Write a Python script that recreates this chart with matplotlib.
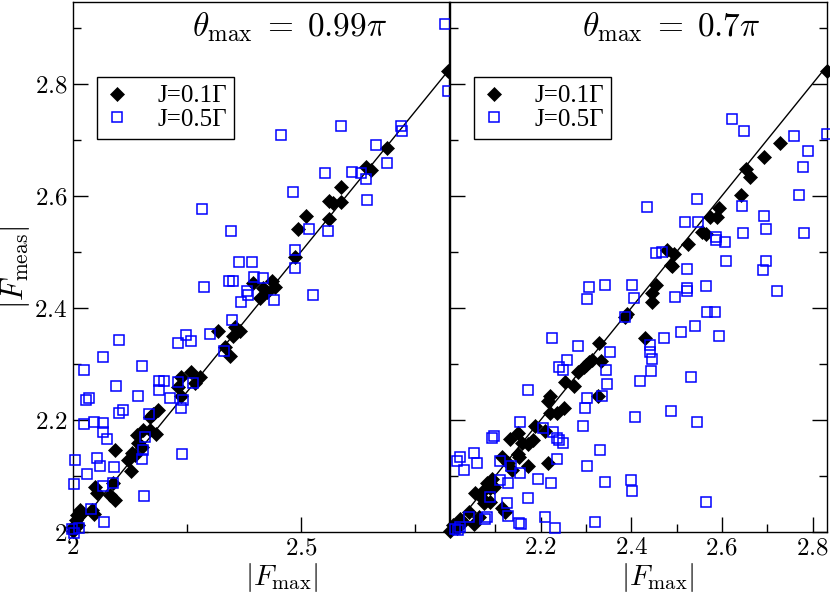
import matplotlib
matplotlib.use("Agg")
import matplotlib.pyplot as plt
from matplotlib.ticker import FixedLocator, MultipleLocator

plt.rcParams['mathtext.fontset'] = 'cm'
plt.rcParams['font.family'] = ['DejaVu Serif']

# ---------------- data ----------------
# Left panel (theta_max = 0.99 pi)
left_j01_x = [2.823, 2.689, 2.642, 2.653, 2.587, 2.562, 2.571, 2.589, 2.562, 2.512,
              2.493, 2.487, 2.395, 2.417, 2.436, 2.443, 2.410, 2.425, 2.319, 2.355,
              2.366, 2.352, 2.333, 2.344, 2.258, 2.279, 2.237, 2.231, 2.238, 2.268,
              2.187, 2.176, 2.169, 2.154, 2.140, 2.169, 2.183, 2.143, 2.151, 2.092,
              2.129, 2.121, 2.127, 2.136, 2.048, 2.052, 2.081, 2.092, 2.088, 2.041,
              2.045, 2.015, 2.008, 2.007, 2.001, 2.019, 2.000, 2.011]
left_j01_y = [2.823, 2.685, 2.652, 2.646, 2.615, 2.591, 2.587, 2.589, 2.558, 2.564,
              2.541, 2.490, 2.445, 2.435, 2.448, 2.438, 2.418, 2.429, 2.358, 2.366,
              2.359, 2.349, 2.331, 2.314, 2.286, 2.276, 2.276, 2.259, 2.242, 2.266,
              2.218, 2.211, 2.206, 2.182, 2.173, 2.182, 2.175, 2.158, 2.152, 2.146,
              2.141, 2.129, 2.108, 2.1375, 2.080, 2.069, 2.066, 2.057, 2.088, 2.039,
              2.032, 2.039, 2.030, 2.021, 2.009, 2.034, 2.002, 2.0125]

left_j05_x = [2.817, 2.823, 2.456, 2.587, 2.719, 2.722, 2.664, 2.689, 2.553, 2.613,
              2.633, 2.642, 2.644, 2.482, 2.284, 2.346, 2.518, 2.560, 2.487, 2.487,
              2.365, 2.392, 2.342, 2.352, 2.397, 2.417, 2.288, 2.527, 2.381, 2.385,
              2.368, 2.441, 2.349, 2.300, 2.248, 2.231, 2.258, 2.101, 2.066, 2.025,
              2.152, 2.095, 2.189, 2.200, 2.189, 2.231, 2.264, 2.143, 2.213, 2.029,
              2.036, 2.242, 2.237, 2.101, 2.110, 2.167, 2.024, 2.045, 2.066, 2.066,
              2.074, 2.158, 2.154, 2.240, 2.004, 2.052, 2.059, 2.090, 2.151, 2.031,
              2.002, 2.066, 2.088, 2.156, 2.039, 2.069, 1.997, 2.002, 2.013, 2.332]
left_j05_y = [2.906, 2.788, 2.708, 2.725, 2.724, 2.716, 2.690, 2.659, 2.640, 2.642,
              2.640, 2.630, 2.593, 2.607, 2.577, 2.5375, 2.541, 2.538, 2.504, 2.471,
              2.482, 2.482, 2.448, 2.448, 2.456, 2.454, 2.437, 2.423, 2.430, 2.423,
              2.410, 2.414, 2.379, 2.354, 2.352, 2.337, 2.341, 2.343, 2.313, 2.289,
              2.296, 2.261, 2.270, 2.270, 2.254, 2.268, 2.266, 2.243, 2.239, 2.236,
              2.239, 2.236, 2.222, 2.213, 2.218, 2.211, 2.192, 2.196, 2.195, 2.179,
              2.166, 2.170, 2.146, 2.139, 2.129, 2.132, 2.117, 2.116, 2.130, 2.104,
              2.086, 2.082, 2.088, 2.065, 2.041, 2.017, 2.005, 1.999, 2.008, 2.323]

# Right panel (theta_max = 0.7 pi)
right_j01_x = [2.831, 2.729, 2.693, 2.653, 2.662, 2.642, 2.594, 2.590, 2.574, 2.557,
               2.564, 2.526, 2.479, 2.494, 2.487, 2.490, 2.454, 2.445, 2.446, 2.391,
               2.387, 2.431, 2.328, 2.334, 2.306, 2.300, 2.295, 2.283, 2.313, 2.254,
               2.273, 2.221, 2.217, 2.220, 2.236, 2.251, 2.188, 2.210, 2.133, 2.151,
               2.159, 2.173, 2.184, 2.149, 2.153, 2.114, 2.172, 2.129, 2.136, 2.217,
               2.092, 2.097, 2.088, 2.081, 2.055, 2.074, 2.070, 2.088, 2.074, 2.114,
               2.122, 2.041, 2.052, 2.063, 2.022, 2.029, 2.007, 2.000, 2.015, 2.326]
right_j01_y = [2.822, 2.694, 2.670, 2.648, 2.634, 2.601, 2.578, 2.563, 2.563, 2.535,
               2.532, 2.514, 2.504, 2.496, 2.477, 2.474, 2.441, 2.427, 2.411, 2.390,
               2.384, 2.347, 2.337, 2.305, 2.304, 2.298, 2.295, 2.286, 2.307, 2.268,
               2.261, 2.242, 2.233, 2.212, 2.212, 2.221, 2.189, 2.181, 2.166, 2.177,
               2.158, 2.157, 2.164, 2.139, 2.134, 2.134, 2.117, 2.123, 2.111, 2.123,
               2.095, 2.081, 2.078, 2.088, 2.069, 2.075, 2.060, 2.054, 2.051, 2.042,
               2.036, 2.036, 2.014, 2.027, 2.024, 2.018, 2.0125, 2.002, 2.008, 2.243]

right_j05_x = [2.623, 2.649, 2.831, 2.760, 2.789, 2.778, 2.771, 2.644, 2.693, 2.697,
               2.782, 2.647, 2.544, 2.434, 2.518, 2.548, 2.586, 2.586, 2.607, 2.454,
               2.467, 2.610, 2.698, 2.691, 2.522, 2.721, 2.524, 2.524, 2.564, 2.496,
               2.306, 2.341, 2.402, 2.406, 2.302, 2.386, 2.568, 2.585, 2.541, 2.509,
               2.472, 2.594, 2.442, 2.442, 2.445, 2.444, 2.225, 2.282, 2.354, 2.258,
               2.240, 2.249, 2.344, 2.347, 2.419, 2.532, 2.173, 2.302, 2.336, 2.297,
               2.487, 2.408, 2.544, 2.293, 2.155, 2.205, 2.227, 2.236, 2.240, 2.249,
               2.092, 2.096, 2.330, 2.054, 2.059, 2.015, 2.022, 2.031, 2.111, 2.135,
               2.237, 2.302, 2.155, 2.129, 2.111, 2.194, 2.223, 2.341, 2.400, 2.402,
               2.172, 2.566, 2.125, 2.088, 2.041, 2.077, 2.081, 2.128, 2.210, 2.321,
               2.153, 2.157, 2.232, 2.011, 2.018, 2.022]
right_j05_y = [2.7375, 2.716, 2.710, 2.706, 2.680, 2.652, 2.602, 2.581, 2.564, 2.541,
               2.533, 2.533, 2.594, 2.580, 2.554, 2.554, 2.527, 2.521, 2.517, 2.498,
               2.499, 2.484, 2.484, 2.467, 2.470, 2.431, 2.435, 2.431, 2.439, 2.420,
               2.437, 2.441, 2.440, 2.418, 2.416, 2.383, 2.393, 2.392, 2.368, 2.357,
               2.347, 2.349, 2.334, 2.322, 2.308, 2.2875, 2.346, 2.332, 2.322, 2.307,
               2.294, 2.290, 2.289, 2.264, 2.270, 2.276, 2.253, 2.239, 2.243, 2.222,
               2.216, 2.205, 2.197, 2.190, 2.196, 2.186, 2.179, 2.167, 2.165, 2.158,
               2.168, 2.172, 2.146, 2.141, 2.123, 2.127, 2.133, 2.111, 2.127, 2.118,
               2.130, 2.117, 2.105, 2.087, 2.093, 2.095, 2.087, 2.089, 2.092, 2.074,
               2.060, 2.054, 2.051, 2.063, 2.027, 2.023, 2.026, 2.029, 2.027, 2.018,
               2.016, 2.014, 2.007, 2.005, 2.004, 2.009]

series_labels = ["J=0.1Γ", "J=0.5Γ"]
panel_titles = [r"$\theta_{\rm max}\; =\; 0.99\pi$", r"$\theta_{\rm max}\; =\; 0.7\pi$"]
ylabel_text = r"$|F_{\rm meas}|$"
xlabel_text = r"$|F_{\rm max}|$"

y_ticks = [2.0, 2.2, 2.4, 2.6, 2.8]
y_ticklabels = ["$2$", "$2.2$", "$2.4$", "$2.6$", "$2.8$"]
left_x_ticks = [2.0, 2.5]
left_x_ticklabels = ["$2$", "$2.5$"]
right_x_ticks = [2.2, 2.4, 2.6, 2.8]
right_x_ticklabels = ["$2.2$", "$2.4$", "$2.6$", "$2.8$"]
diag_line = [2.0, 2.83]

# ---------------- figure ----------------
fig = plt.figure(figsize=(8.3, 5.93), dpi=100)
axL = fig.add_axes([73/830, 1-532/593, 376/830, 530/593])
axR = fig.add_axes([450/830, 1-532/593, 377/830, 530/593])

blue = '#0000ff'
panels = [
    (axL, left_j01_x, left_j01_y, left_j05_x, left_j05_y, (2.0, 2.825), 0.575),
    (axR, right_j01_x, right_j01_y, right_j05_x, right_j05_y, (2.0, 2.832), 0.588),
]

for i, (ax, x1, y1, x5, y5, xl, tx) in enumerate(panels):
    ax.plot(diag_line, diag_line, color='black', lw=1.0, zorder=2)
    ax.plot(x1, y1, linestyle='none', marker='D', ms=7.3, mfc='black', mec='black',
            mew=0.5, label=series_labels[0], zorder=3, clip_on=False)
    ax.plot(x5, y5, linestyle='none', marker='s', ms=7.0, mfc='none', mec=blue,
            mew=1.1, label=series_labels[1], zorder=4, clip_on=False)
    ax.set_xlim(*xl)
    ax.set_ylim(2.0, 2.946)
    ax.text(tx, 0.952, panel_titles[i], transform=ax.transAxes,
            ha='center', va='center', fontsize=24)
    leg = ax.legend(loc='upper left', bbox_to_anchor=(0.064, 0.858), borderaxespad=0,
                    fancybox=False, edgecolor='black', framealpha=1,
                    prop={'family': 'Liberation Serif', 'size': 18},
                    handlelength=1.0, handletextpad=1.1, borderpad=0.3,
                    labelspacing=0.05)
    leg.get_frame().set_linewidth(1.0)
    ax.set_xlabel(xlabel_text, fontsize=21)
    for sp in ax.spines.values():
        sp.set_linewidth(1.0)

# Left panel ticks
axL.set_yticks(y_ticks)
axL.set_yticklabels(y_ticklabels)
axL.yaxis.set_minor_locator(MultipleLocator(0.1))
axL.set_xticks(left_x_ticks)
axL.set_xticklabels(left_x_ticklabels)
axL.xaxis.set_minor_locator(FixedLocator([2.25, 2.75]))
axL.tick_params(which='both', direction='in', top=False, right=False, labelsize=18, pad=4)
axL.tick_params(axis='x', which='both', pad=3)
axL.tick_params(which='major', length=11, width=1.0)
axL.tick_params(which='minor', length=5.5, width=1.0)
axL.set_ylabel(ylabel_text, fontsize=22)
axL.yaxis.set_label_coords(-0.108, 0.5)
axL.xaxis.set_label_coords(0.556, -0.054)

# Right panel ticks
axR.set_yticks(y_ticks)
axR.set_yticklabels([])
axR.yaxis.set_minor_locator(MultipleLocator(0.1))
axR.set_xticks(right_x_ticks)
axR.set_xticklabels(right_x_ticklabels)
axR.xaxis.set_minor_locator(MultipleLocator(0.1))
axR.tick_params(which='both', direction='in', top=False, right=True, labelsize=18, pad=3)
axR.tick_params(which='major', length=11, width=1.0)
axR.tick_params(which='minor', length=5.5, width=1.0)
axR.xaxis.set_label_coords(0.552, -0.054)

fig.savefig("out.png", dpi=100)
